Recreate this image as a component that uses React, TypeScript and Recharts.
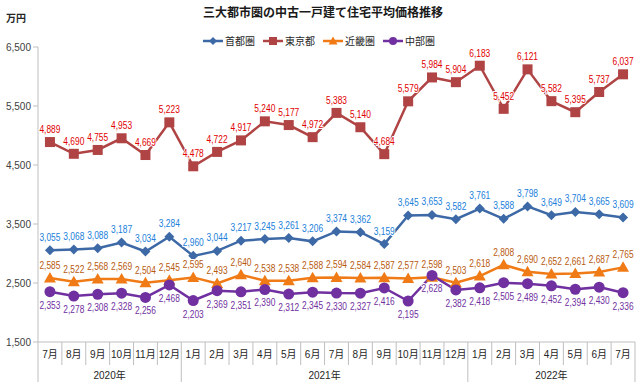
import React from 'react';
import { LineChart, Line, XAxis, YAxis, LabelList } from 'recharts';

const months = [
  '7月', '8月', '9月', '10月', '11月', '12月',
  '1月', '2月', '3月', '4月', '5月', '6月', '7月', '8月', '9月', '10月', '11月', '12月',
  '1月', '2月', '3月', '4月', '5月', '6月', '7月',
];
const yearLabels = ['2020年', '2021年', '2022年'];
const yearSpans = [6, 12, 7];

const shutoken = [3055, 3068, 3088, 3187, 3034, 3284, 2960, 3044, 3217, 3245, 3261, 3206, 3374, 3362, 3159, 3645, 3653, 3582, 3761, 3588, 3798, 3649, 3704, 3665, 3609];
const tokyo = [4889, 4690, 4755, 4953, 4669, 5223, 4478, 4722, 4917, 5240, 5177, 4972, 5383, 5140, 4684, 5579, 5984, 5904, 6183, 5452, 6121, 5582, 5395, 5737, 6037];
const kinki = [2585, 2522, 2568, 2569, 2504, 2545, 2595, 2493, 2640, 2538, 2538, 2588, 2594, 2584, 2587, 2577, 2598, 2503, 2618, 2808, 2690, 2652, 2661, 2687, 2765];
const chubu = [2353, 2278, 2308, 2328, 2256, 2468, 2203, 2369, 2351, 2390, 2312, 2345, 2330, 2327, 2416, 2195, 2628, 2382, 2418, 2505, 2489, 2452, 2394, 2430, 2336];

const yTicks = [1500, 2500, 3500, 4500, 5500, 6500];

const data = months.map((m, i) => ({
  idx: i,
  month: m,
  shutoken: shutoken[i],
  tokyo: tokyo[i],
  kinki: kinki[i],
  chubu: chubu[i],
}));

const W = 640;
const H = 386;
const LEFT = 38;
const RIGHT = 5;
const BW = (W - LEFT - RIGHT) / months.length;

const C = {
  blue: '#3D69A6', blueText: '#2080DA',
  red: '#B04444', redText: '#E00000',
  orange: '#F07B16', orangeText: '#B85A0E',
  purple: '#7030A0', purpleText: '#7030A0',
  grid: '#BFBFBF',
};

const fmt = (v: any) => Number(v).toLocaleString('en-US');

// first index of each year group
const yearStarts = yearSpans.map((_, i) => yearSpans.slice(0, i).reduce((a, b) => a + b, 0));

const MonthTick = (props: any) => {
  const { x, y, payload } = props;
  const i = payload.index;
  const left = x - BW / 2;
  const isYearStart = yearStarts.includes(i);
  const els: any[] = [];
  els.push(
    <line key="l" x1={left} x2={left} y1={y} y2={isYearStart ? y + 40 : y + 23} stroke={C.grid} />
  );
  if (i === months.length - 1) {
    els.push(<line key="r" x1={x + BW / 2} x2={x + BW / 2} y1={y} y2={y + 40} stroke={C.grid} />);
  }
  els.push(
    <text key="t" x={x} y={y + 16} textAnchor="middle" fontSize={10} fill="#262626">
      {months[i]}
    </text>
  );
  yearStarts.forEach((s, k) => {
    const centre = s + (yearSpans[k] - 1) / 2;
    if (Math.floor(centre) === i) {
      els.push(
        <text key={'y' + k} x={x + (centre - i) * BW} y={y + 37} textAnchor="middle" fontSize={10} fill="#262626">
          {yearLabels[k]}
        </text>
      );
    }
  });
  return <g>{els}</g>;
};

// condensed data label with a thin white halo that breaks the lines behind it
const makeLabel = (color: string, dy: number) => (props: any) => {
  const { x, y, value, width } = props;
  if (x == null || y == null) return <g />;
  const cx = x + (width || 0) / 2;
  return (
    <text
      x={cx}
      y={y + dy}
      textAnchor="middle"
      fontSize={10}
      textLength={21}
      lengthAdjust="spacingAndGlyphs"
      fill={color}
      stroke="#fff"
      strokeWidth={2}
      style={{ paintOrder: 'stroke' }}
    >
      {fmt(value)}
    </text>
  );
};

const Diamond = (props: any) => {
  const { cx, cy } = props;
  if (cx == null || cy == null) return <g />;
  return <path d={`M${cx},${cy - 5}L${cx + 5},${cy}L${cx},${cy + 5}L${cx - 5},${cy}Z`} fill={C.blue} />;
};
const Square = (props: any) => {
  const { cx, cy } = props;
  if (cx == null || cy == null) return <g />;
  return <rect x={cx - 5} y={cy - 5} width={10} height={10} fill={C.red} />;
};
const Triangle = (props: any) => {
  const { cx, cy } = props;
  if (cx == null || cy == null) return <g />;
  return <path d={`M${cx},${cy - 6}L${cx + 6},${cy + 4.5}L${cx - 6},${cy + 4.5}Z`} fill={C.orange} />;
};
const Circle = (props: any) => {
  const { cx, cy } = props;
  if (cx == null || cy == null) return <g />;
  return <circle cx={cx} cy={cy} r={5.5} fill={C.purple} />;
};

const legendItems = [
  { name: '首都圏', color: C.blue, shape: 'diamond' },
  { name: '東京都', color: C.red, shape: 'square' },
  { name: '近畿圏', color: C.orange, shape: 'triangle' },
  { name: '中部圏', color: C.purple, shape: 'circle' },
];

const LegendMark = ({ color, shape }: { color: string; shape: string }) => (
  <svg width={20} height={10} style={{ display: 'block' }}>
    <line x1={0} x2={20} y1={5} y2={5} stroke={color} strokeWidth={2.5} />
    {shape === 'diamond' && <path d="M10,1L14,5L10,9L6,5Z" fill={color} />}
    {shape === 'square' && <rect x={6} y={1} width={8} height={8} fill={color} />}
    {shape === 'triangle' && <path d="M10,0.5L14.5,8.5L5.5,8.5Z" fill={color} />}
    {shape === 'circle' && <circle cx={10} cy={5} r={4} fill={color} />}
  </svg>
);

const FONT = '"Liberation Sans", "Noto Sans CJK JP", sans-serif';
const CJK = '"Noto Sans CJK JP", sans-serif';

export default function App() {
  return (
    <div style={{ position: 'absolute', left: 0, top: 0, width: W, height: H, background: '#fff', fontFamily: FONT }}>
      <div style={{ position: 'absolute', left: 3, top: 3, width: W, textAlign: 'center', fontSize: 12, fontWeight: 'bold', color: '#1a1a1a', fontFamily: CJK }}>
        三大都市圏の中古一戸建て住宅平均価格推移
      </div>
      <div style={{ position: 'absolute', left: 6, top: 10, fontSize: 10, fontWeight: 'bold', color: '#262626', fontFamily: CJK }}>
        万円
      </div>
      <div style={{ position: 'absolute', left: 203, top: 33, display: 'flex', alignItems: 'center', fontSize: 10, color: '#262626', fontFamily: CJK }}>
        {legendItems.map((it) => (
          <div key={it.name} style={{ display: 'flex', alignItems: 'center', marginRight: 8 }}>
            <LegendMark color={it.color} shape={it.shape} />
            <span style={{ marginLeft: 2 }}>{it.name}</span>
          </div>
        ))}
      </div>
      <LineChart width={W} height={H} data={data} margin={{ top: 47, right: RIGHT, left: 0, bottom: 0 }}>
        <XAxis
          dataKey="idx"
          type="category"
          scale="band"
          height={44}
          axisLine={{ stroke: C.grid }}
          tickLine={false}
          tickSize={0}
          tickMargin={0}
          interval={0}
          tick={<MonthTick />}
        />
        <YAxis
          width={LEFT}
          domain={[1500, 6500]}
          ticks={yTicks}
          interval={0}
          tickFormatter={fmt}
          axisLine={{ stroke: C.grid }}
          tickLine={{ stroke: C.grid }}
          tickSize={5}
          tickMargin={2}
          tick={{ fontSize: 10, fill: '#404040' }}
        />
        <Line dataKey="shutoken" stroke={C.blue} strokeWidth={2.5} dot={<Diamond />} activeDot={false} isAnimationActive={false}>
          <LabelList dataKey="shutoken" content={makeLabel(C.blueText, -9.5)} />
        </Line>
        <Line dataKey="tokyo" stroke={C.red} strokeWidth={2.5} dot={<Square />} activeDot={false} isAnimationActive={false}>
          <LabelList dataKey="tokyo" content={makeLabel(C.redText, -9)} />
        </Line>
        <Line dataKey="kinki" stroke={C.orange} strokeWidth={2.5} dot={<Triangle />} activeDot={false} isAnimationActive={false}>
          <LabelList dataKey="kinki" content={makeLabel(C.orangeText, -9)} />
        </Line>
        <Line dataKey="chubu" stroke={C.purple} strokeWidth={2.5} dot={<Circle />} activeDot={false} isAnimationActive={false}>
          <LabelList dataKey="chubu" content={makeLabel(C.purpleText, 17)} />
        </Line>
      </LineChart>
    </div>
  );
}
